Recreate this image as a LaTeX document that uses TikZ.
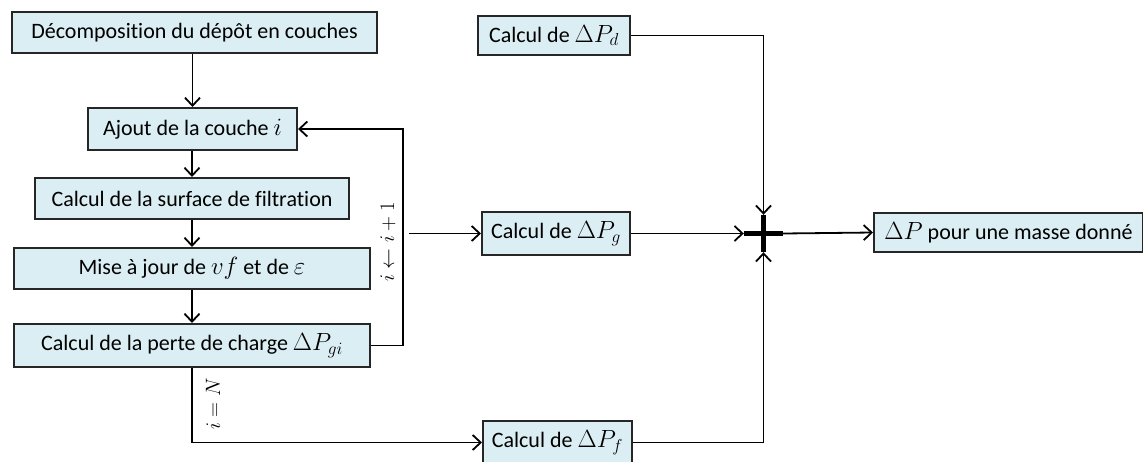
\documentclass[tikz,border=0pt]{standalone}
\usepackage{fontspec}
\setmainfont{Carlito}[Ligatures=NoCommon]
\usetikzlibrary{arrows.meta}
\definecolor{boxfill}{RGB}{219,238,244}
\newcommand\mth[1]{{\fontsize{25}{28}\selectfont$#1$}}
\begin{document}
\begin{tikzpicture}[x=1pt,y=-1pt,
  box/.style={draw=black!85, fill=boxfill, line width=2pt, inner sep=0pt,
    minimum height=41pt, font=\fontsize{22}{26}\selectfont},
  arr/.style={line width=1.8pt, -{Straight Barb[length=8pt,width=15pt,line width=1.8pt]}},
  lbl/.style={rotate=90, inner sep=0pt, font=\fontsize{20}{22}\selectfont}]
\useasboundingbox (0,0) rectangle (1143,461);
% left column
\node[box, minimum width=365pt] (B1) at (194.5,32.5) {Décomposition du dépôt en couches};
\node[box, minimum width=209pt, minimum height=42pt] (B2) at (192.5,129) {Ajout de la couche \mth{i}};
\node[box, minimum width=314pt] (B3) at (192,198.5) {Calcul de la surface de filtration};
\node[box, minimum width=356pt] (B4) at (192,268.5) {Mise à jour de \mth{vf} et de \mth{\varepsilon}};
\node[box, minimum width=356pt, minimum height=43pt] (B5) at (192,345.5) {Calcul de la perte de charge \mth{\Delta P_{gi}}};
% right column
\node[box, minimum width=152pt, minimum height=39pt] (Pd) at (554,35.5) {Calcul de \mth{\Delta P_d}};
\node[box, minimum width=148pt, minimum height=43pt] (Pg) at (556,233.5) {Calcul de \mth{\Delta P_g}};
\node[box, minimum width=149pt, minimum height=43pt] (Pf) at (557.5,442.5) {Calcul de \mth{\Delta P_f}};
\node[box, minimum width=269pt, minimum height=39pt] (Out) at (1008.5,232.5) {\mth{\Delta P} pour une masse donné};
% summation
\node[minimum width=39pt, minimum height=37pt, inner sep=0pt] (plus) at (763.5,233.5) {};
\draw[line width=5.5pt] (plus.west) -- (plus.east) (plus.north) -- (plus.south);
% connectors
\draw[arr] (B2.north |- B1.south) -- (B2.north);
\draw[arr] (B3.north |- B2.south) -- (B3.north);
\draw[arr] (B3.south) -- (B4.north);
\draw[arr] (B4.south) -- (B5.north);
\coordinate (fb) at (403,0);
\draw[arr] (B5.east) -| (fb |- B2.east) -- (B2.east);
\coordinate (br) at (409,233.5);
\draw[arr] (br) -- (Pg.west);
\draw[arr] (B5.south) |- (Pf.west);
\draw[arr] (Pd.east) -| (plus.north);
\draw[arr] (Pg.east) -- (plus.west);
\draw[arr] (Pf.east) -| (plus.south);
\draw[arr] (plus.east) -- (Out.west);
% labels
\node[lbl] (l1) at (388,242) {$i \leftarrow i+1$};
\node[lbl] (l2) at (213,404) {$i=N$};
\end{tikzpicture}
\end{document}
